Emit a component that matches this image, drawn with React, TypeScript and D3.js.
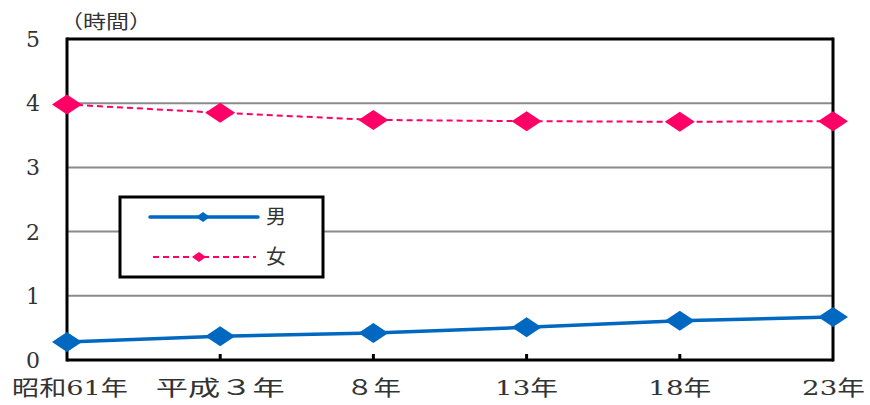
import React from "react";
import * as d3 from "d3";

const categories = ["昭和61年", "平成３年", "８年", "13年", "18年", "23年"];
const maleHours = [0.28, 0.37, 0.42, 0.51, 0.61, 0.67];
const femaleHours = [3.98, 3.85, 3.74, 3.72, 3.71, 3.72];
const yTicks = [0, 1, 2, 3, 4, 5];
const seriesNames = ["男", "女"];
const labelWidths = [116, 129, 55, 63, 63, 63];

const W = 870;
const H = 405;
const M = { left: 67, right: 37, top: 39, bottom: 45 };
const BLUE = "#0068c0";
const PINK = "#ff0066";
const NUM_FONT = "'DejaVu Serif', 'Liberation Serif', serif";
const CJK_FONT = "'Noto Sans CJK JP', sans-serif";

function diamond(cx: number, cy: number, w: number, h: number) {
  return `M${cx - w / 2},${cy}L${cx},${cy - h / 2}L${cx + w / 2},${cy}L${cx},${cy + h / 2}Z`;
}

// split a label into runs of ASCII digits and other characters
function runs(s: string) {
  const parts = s.match(/[0-9]+|[^0-9]+/g) ?? [];
  return parts.map((p, i) => (
    <tspan key={i} fontFamily={/[0-9]/.test(p) ? NUM_FONT : CJK_FONT}>
      {p}
    </tspan>
  ));
}

export default function App() {
  const x = d3.scalePoint<string>().domain(categories).range([M.left, W - M.right]).padding(0);
  const y = d3.scaleLinear().domain([0, 5]).range([H - M.bottom, M.top]);
  const line = d3
    .line<number>()
    .x((_, i) => x(categories[i]) as number)
    .y((d) => y(d));

  const x0 = M.left;
  const x1 = W - M.right;
  const lg = { x: 120, y: 197, w: 203, h: 80 };

  return (
    <svg width={W} height={H} style={{ position: "absolute", left: 0, top: 0, background: "#fff" }}>
      {/* gridlines */}
      {yTicks.slice(1, 5).map((t) => (
        <line key={t} x1={x0} x2={x1} y1={y(t)} y2={y(t)} stroke="#8a8a8a" strokeWidth={2} />
      ))}
      {/* frame */}
      <line x1={x0} x2={x1} y1={y(5)} y2={y(5)} stroke="#000" strokeWidth={3} />
      <line x1={x0} x2={x0} y1={y(5) - 1.5} y2={y(0) + 1.5} stroke="#000" strokeWidth={3} />
      <line x1={x1} x2={x1} y1={y(5) - 1.5} y2={y(0) + 1.5} stroke="#000" strokeWidth={3} />
      <line x1={x0} x2={x1} y1={y(0)} y2={y(0)} stroke="#000" strokeWidth={3} />
      {categories.slice(1, 5).map((c) => (
        <line key={c} x1={x(c)} x2={x(c)} y1={y(0)} y2={y(0) - 6} stroke="#000" strokeWidth={3} />
      ))}
      {/* y tick labels */}
      {yTicks.map((t) => (
        <text key={t} x={33} y={y(t)} dy="0.36em" textAnchor="middle" fontFamily={NUM_FONT} fontSize={22} fill="#333">
          {t}
        </text>
      ))}
      <text x={60} y={22} dy="0.35em" fontFamily={CJK_FONT} fontSize={19} fill="#333" textLength={92} lengthAdjust="spacingAndGlyphs">
        （時間）
      </text>
      {/* x tick labels */}
      {categories.map((c, i) => {
        const cx = x(c) as number;
        const w = labelWidths[i];
        const left = i === 0 ? 12 : i === categories.length - 1 ? 802 : cx - w / 2;
        return (
          <text key={c} x={left} y={388} dy="0.35em" fontSize={21} fill="#333" textLength={w} lengthAdjust="spacingAndGlyphs">
            {runs(c)}
          </text>
        );
      })}
      {/* series */}
      <path d={line(femaleHours) ?? ""} fill="none" stroke={PINK} strokeWidth={2} strokeDasharray="6,4" />
      <path d={line(maleHours) ?? ""} fill="none" stroke={BLUE} strokeWidth={3.5} />
      {femaleHours.map((v, i) => (
        <path key={"f" + i} d={diamond(x(categories[i]) as number, y(v), 30, 20)} fill={PINK} />
      ))}
      {maleHours.map((v, i) => (
        <path key={"m" + i} d={diamond(x(categories[i]) as number, y(v), 30, 20)} fill={BLUE} />
      ))}
      {/* legend */}
      <rect x={lg.x} y={lg.y} width={lg.w} height={lg.h} fill="#fff" stroke="#000" strokeWidth={3} />
      <line x1={150} x2={258} y1={217} y2={217} stroke={BLUE} strokeWidth={3.5} strokeLinecap="round" />
      <path d={diamond(203, 217, 14, 10)} fill={BLUE} />
      <text x={266} y={217} dy="0.35em" fontFamily={CJK_FONT} fontSize={20} fill="#333">
        {seriesNames[0]}
      </text>
      <line x1={153} x2={256} y1={257} y2={257} stroke={PINK} strokeWidth={2} strokeDasharray="6,4" />
      <path d={diamond(199, 257, 14, 10)} fill={PINK} />
      <text x={266} y={257} dy="0.35em" fontFamily={CJK_FONT} fontSize={20} fill="#333">
        {seriesNames[1]}
      </text>
    </svg>
  );
}
